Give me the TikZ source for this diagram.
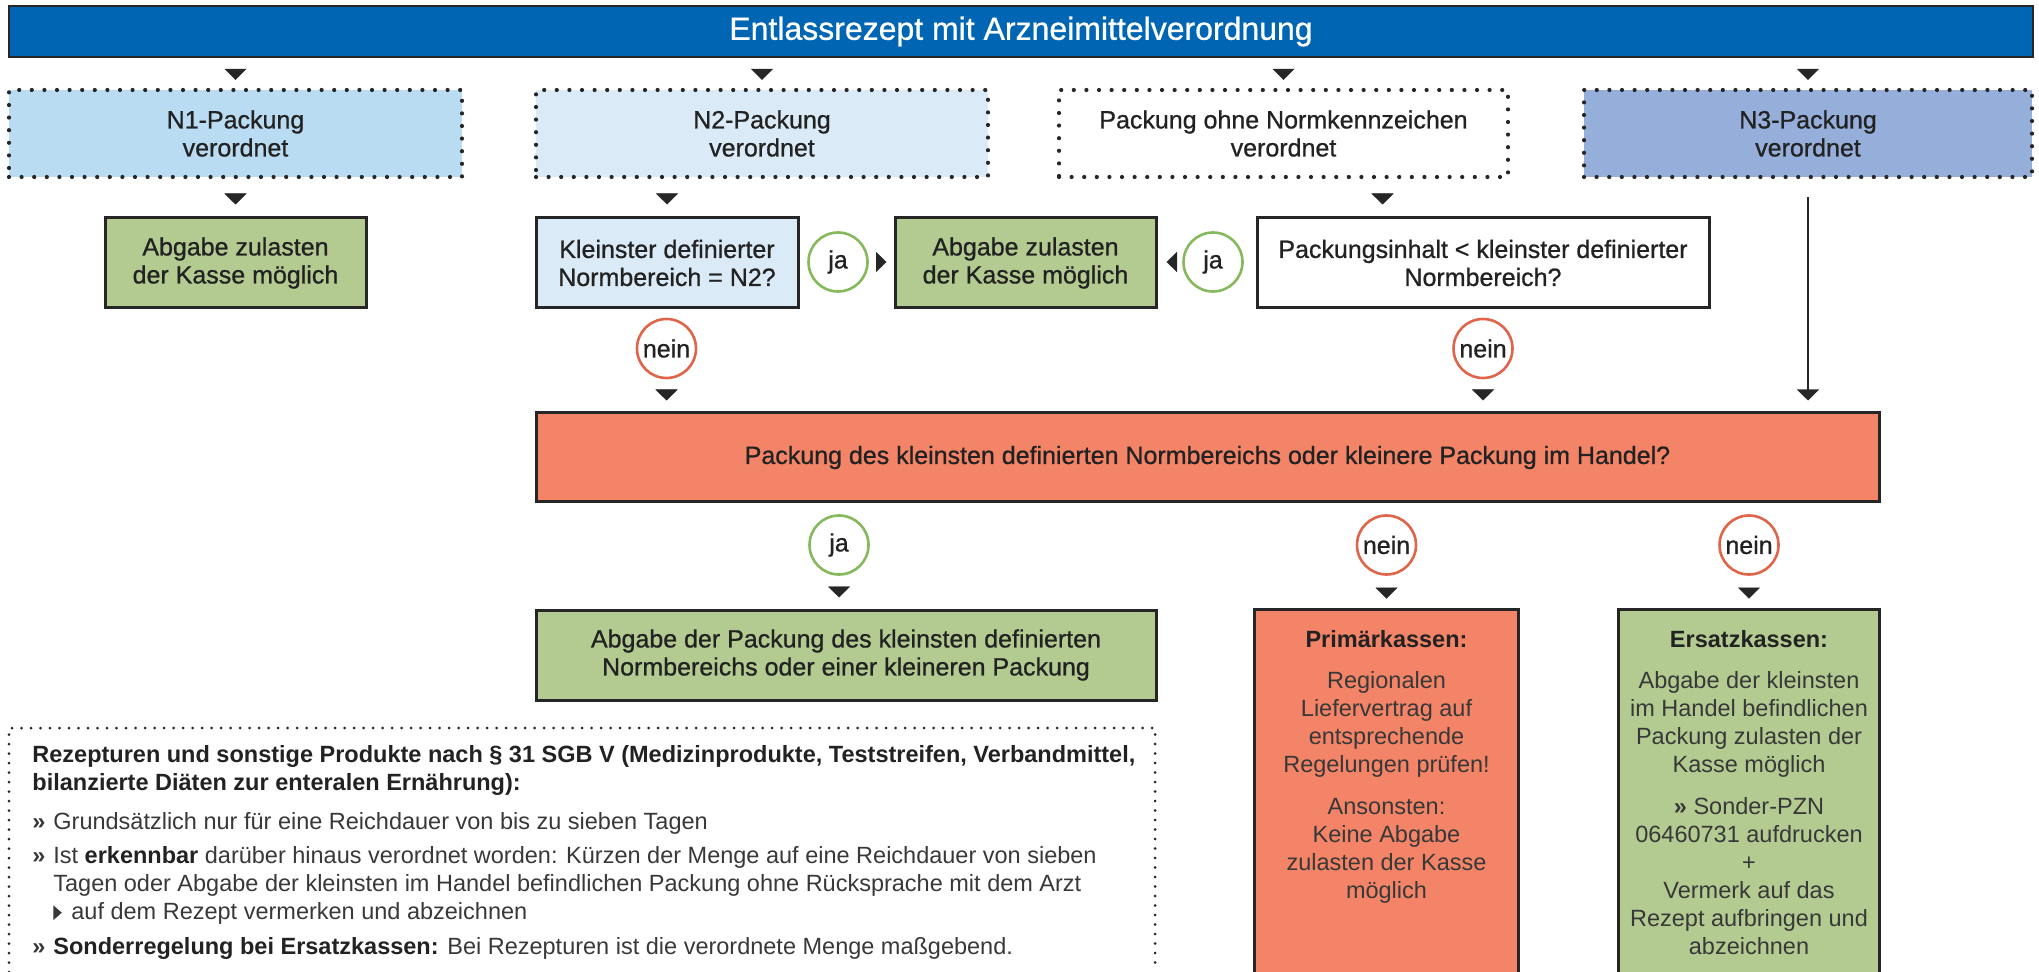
\documentclass[tikz,border=0pt]{standalone}
\usepackage{fontspec}
\setmainfont{Liberation Sans}
\newfontfamily\medf{Liberation Sans}[FakeBold=0.8]
\usetikzlibrary{arrows.meta}
\definecolor{hdrblue}{HTML}{0066B3}
\definecolor{nOne}{HTML}{BADCF2}
\definecolor{nTwo}{HTML}{DAEBF7}
\definecolor{nThree}{HTML}{95AFDA}
\definecolor{grn}{HTML}{B3CB91}
\definecolor{org}{HTML}{F38467}
\definecolor{jac}{HTML}{86B95C}
\definecolor{neinc}{HTML}{DF6449}
\definecolor{bord}{HTML}{262626}
\definecolor{txt}{HTML}{222222}
\definecolor{ltxt}{HTML}{383838}
\newcommand\boxfont{\medf\fontsize{12.5pt}{14pt}\selectfont}
\newcommand\bodyfont{\fontsize{11.75pt}{14pt}\selectfont}
\newcommand\hdrfont{\medf\fontsize{16pt}{19pt}\selectfont}
\newcommand\bul{\makebox[10.5pt][l]{\textbf{»}}}
\newcommand\ind{\hspace*{10.5pt}}
\newcommand\tri{\makebox[9pt][l]{\tikz[x=1pt,y=1pt,baseline=0pt]\fill[ltxt] (0,-0.3) -- (0,7) -- (4.2,3.35) -- cycle;}}
\begin{document}
\begin{tikzpicture}[x=0.5pt,y=-0.5pt,
  box/.style={draw=bord, line width=1.5pt, align=center, inner sep=0pt, font=\boxfont, text=txt},
  dotbox/.style={draw=bord, line width=2.1pt, dash pattern=on 0pt off 6.3pt, line cap=round, align=center, inner sep=0pt, font=\boxfont, text=txt, minimum height=43.5pt},
  lab/.style={circle, line width=1.3pt, fill=white, minimum size=29.5pt, inner sep=0pt, font=\boxfont, text=txt},
  jalab/.style={lab, draw=jac},
  neinlab/.style={lab, draw=neinc},
  tipv/.style={-{Triangle[width=11pt,length=5.5pt]}, line width=0.2pt, draw=bord},
  tiph/.style={-{Triangle[width=10pt,length=5.25pt]}, line width=0.2pt, draw=bord},
  bodytext/.style={inner sep=0pt, font=\bodyfont, text=ltxt}
]
\useasboundingbox (0,0) rectangle (2039,972);
\clip (0,0) rectangle (2039,972);

% header
\node[box, fill=hdrblue, line width=1.2pt, minimum width=1012pt, minimum height=25.5pt, font=\hdrfont, text=white] (hdr) at (1021,31.5) {Entlassrezept mit Arzneimittelverordnung};

% row 1
\node[dotbox, fill=nOne, minimum width=226.5pt] (n1) at (235.5,133.5) {N1-Packung\\verordnet};
\node[dotbox, fill=nTwo, minimum width=226pt] (n2) at (762,133.5) {N2-Packung\\verordnet};
\node[dotbox, minimum width=224.5pt] (po) at (1283.5,133.5) {Packung ohne Normkennzeichen\\verordnet};
\node[dotbox, fill=nThree, minimum width=224pt] (n3) at (1808,133.5) {N3-Packung\\verordnet};

% row 2
\node[box, fill=grn, minimum width=130.5pt, minimum height=45pt] (ab1) at (235.5,263) {Abgabe zulasten\\der Kasse möglich};
\node[box, fill=nTwo, minimum width=131pt, minimum height=45pt] (kl) at (667,263) {Kleinster definierter\\Normbereich = N2?};
\node[jalab] (ja1) at (838,262) {ja};
\node[box, fill=grn, minimum width=130.5pt, minimum height=45pt] (ab2) at (1025.5,263) {Abgabe zulasten\\der Kasse möglich};
\node[jalab] (ja2) at (1213,262) {ja};
\node[box, fill=white, minimum width=226pt, minimum height=45pt] (pi) at (1483,263) {Packungsinhalt < kleinster definierter\\Normbereich?};

\node[neinlab] (nein1) at (666.5,348.5) {nein};
\node[neinlab] (nein2) at (1483,348.5) {nein};

% orange question
\node[box, fill=org, minimum width=671.5pt, minimum height=44.5pt] (q) at (1207.5,457.5) {Packung des kleinsten definierten Normbereichs oder kleinere Packung im Handel?};

\node[jalab] (ja3) at (839,545) {ja};
\node[neinlab] (nein3) at (1386.5,545) {nein};
\node[neinlab] (nein4) at (1749,545) {nein};

% row 4
\node[box, fill=grn, minimum width=310pt, minimum height=45pt] (abp) at (846,655) {Abgabe der Packung des kleinsten definierten\\Normbereichs oder einer kleineren Packung};

\node[fill=org, inner sep=0pt, minimum width=131.5pt, minimum height=181pt] (pk) at (1386.5,791) {};
\draw[line width=1.5pt, draw=bord] (pk.south west) -- (pk.north west) -- (pk.north east) -- (pk.south east);
\node[fill=grn, inner sep=0pt, minimum width=130pt, minimum height=181pt] (ek) at (1749,791) {};
\draw[line width=1.5pt, draw=bord] (ek.south west) -- (ek.north west) -- (ek.north east) -- (ek.south east);

\node[bodytext, anchor=north, align=center] (pkt) at (1386.5,630) {\textbf{\color{txt}Primärkassen:}\\[6.5pt]Regionalen\\Liefervertrag auf\\entsprechende\\Regelungen prüfen!\\[7pt]Ansonsten:\\Keine Abgabe\\zulasten der Kasse\\möglich};
\node[bodytext, anchor=north, align=center] (ekt) at (1749,630) {\textbf{\color{txt}Ersatzkassen:}\\[6.5pt]Abgabe der kleinsten\\im Handel befindlichen\\Packung zulasten der\\Kasse möglich\\[7pt]\textbf{»} Sonder-PZN\\06460731 aufdrucken\\+\\Vermerk auf das\\Rezept aufbringen und\\abzeichnen};

% notes box
\draw[draw=bord, line width=1.5pt, dash pattern=on 0pt off 4.75pt, line cap=round] (9,972) -- (9,728) -- (1155,728) -- (1155,972);
\node[bodytext, anchor=north west, align=left] (notes) at (32,745) {\textbf{\color{txt}Rezepturen und sonstige Produkte nach § 31 SGB V (Medizinprodukte, Teststreifen, Verbandmittel,}\\
\textbf{\color{txt}bilanzierte Diäten zur enteralen Ernährung):}\\[5.5pt]
\bul Grundsätzlich nur für eine Reichdauer von bis zu sieben Tagen\\[3pt]
\bul Ist \textbf{\color{txt}erkennbar} darüber hinaus verordnet worden: Kürzen der Menge auf eine Reichdauer von sieben\\
\ind Tagen oder Abgabe der kleinsten im Handel befindlichen Packung ohne Rücksprache mit dem Arzt\\
\ind\tri auf dem Rezept vermerken und abzeichnen\\[3.5pt]
\bul \textbf{\color{txt}Sonderregelung bei Ersatzkassen:} Bei Rezepturen ist die verordnete Menge maßgebend.};

% connectors
\foreach \b in {n1,n2,po,n3}
  \draw[tipv, shorten <=7pt, shorten >=4pt] (\b.north |- hdr.south) -- (\b.north);
\draw[tipv, shorten <=9pt, shorten >=6pt] (n1.south) -- (ab1.north);
\draw[tipv, shorten <=9pt, shorten >=6pt] (kl.north |- n2.south) -- (kl.north);
\draw[tipv, shorten <=9pt, shorten >=6pt] (1382.5,0 |- po.south) -- (1382.5,0 |- pi.north);
\draw[-{Triangle[width=11pt,length=5.5pt]}, line width=1pt, draw=bord, shorten <=9pt, shorten >=5.5pt] (n3.south) -- (n3.south |- q.north);
\draw[tiph, shorten <=4.25pt, shorten >=3.5pt] (ja1.east) -- (ja1.east -| ab2.west);
\draw[tiph, shorten <=3.75pt, shorten >=4.5pt] (ja2.west) -- (ja2.west -| ab2.east);
\draw[tipv, shorten <=6pt, shorten >=5.5pt] (nein1.south) -- (nein1.south |- q.north);
\draw[tipv, shorten <=6pt, shorten >=5.5pt] (nein2.south) -- (nein2.south |- q.north);
\draw[tipv, shorten <=6.25pt, shorten >=5.5pt] (ja3.south) -- (ja3.south |- abp.north);
\draw[tipv, shorten <=6.25pt, shorten >=5.5pt] (nein3.south) -- (pk.north);
\draw[tipv, shorten <=6.25pt, shorten >=5.5pt] (nein4.south) -- (ek.north);
\end{tikzpicture}
\end{document}
